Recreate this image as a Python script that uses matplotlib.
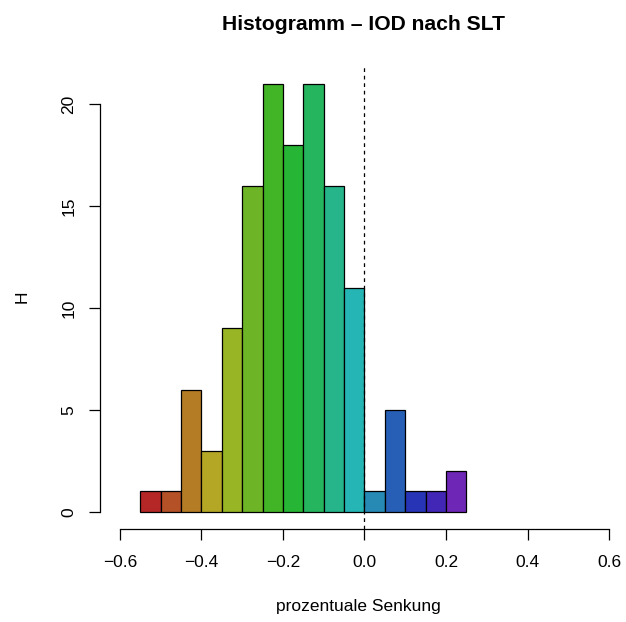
import numpy as np
import matplotlib
matplotlib.use("Agg")
from matplotlib import pyplot as plt

# histogram bins (left edges) and counts
bin_edges = [-0.55, -0.50, -0.45, -0.40, -0.35, -0.30, -0.25, -0.20,
             -0.15, -0.10, -0.05, 0.00, 0.05, 0.10, 0.15, 0.20, 0.25]
counts = [1, 1, 6, 3, 9, 16, 21, 18, 21, 16, 11, 1, 5, 1, 1, 2]
bar_colors = ["#B52626", "#B55126", "#B57C26", "#B5A726", "#98B526",
              "#6DB526", "#42B526", "#26B534", "#26B55F", "#26B58A",
              "#26B5B5", "#268AB5", "#265FB5", "#2634B5", "#4226B5",
              "#6D26B5"]
x_ticks = [-0.6, -0.4, -0.2, 0.0, 0.2, 0.4, 0.6]
y_ticks = [0, 5, 10, 15, 20]

plt.rcParams['font.family'] = ['Liberation Sans', 'DejaVu Sans']

W, H = 626, 622
fig = plt.figure(figsize=(W / 100, H / 100), dpi=100)

# plot region in pixels (R style, extends slightly past the right edge)
left, right, top, bottom = 100, 640, 66.5, 529
ax = fig.add_axes([left / W, 1 - bottom / H, (right - left) / W,
                   (bottom - top) / H])

edges = np.array(bin_edges)
ax.bar(edges[:-1], counts, width=np.diff(edges), align='edge',
       color=bar_colors, edgecolor='black', linewidth=0.9)
ax.axvline(0, color='black', linestyle=(0, (3, 3)), linewidth=0.9)

ax.set_xlim(-0.649, 0.676)
ax.set_ylim(-0.84, 21.84)

for side in ['top', 'right']:
    ax.spines[side].set_visible(False)
ax.spines['left'].set_bounds(0, 20)
ax.spines['bottom'].set_bounds(-0.6, 0.6)
for side in ['left', 'bottom']:
    ax.spines[side].set_linewidth(0.9)

ax.set_xticks(x_ticks)
ax.set_xticklabels(["\u22120.6", "\u22120.4", "\u22120.2", "0.0", "0.2",
                    "0.4", "0.6"])
ax.set_yticks(y_ticks)
ax.set_yticklabels([str(v) for v in y_ticks], rotation=90, va='center')
ax.tick_params(length=8, width=0.9, labelsize=12.5)
ax.tick_params(axis='x', pad=11)
ax.tick_params(axis='y', pad=9)

fig.text(364 / W, 1 - 24 / H, "Histogramm \u2013 IOD nach SLT",
         ha='center', va='center', fontsize=15.2, fontweight='bold')
fig.text(358 / W, 1 - 606 / H, "prozentuale Senkung",
         ha='center', va='center', fontsize=12.5)
fig.text(22 / W, 1 - 297 / H, "H", ha='center', va='center',
         rotation=90, fontsize=12.5)

fig.savefig("out.png", dpi=100)
